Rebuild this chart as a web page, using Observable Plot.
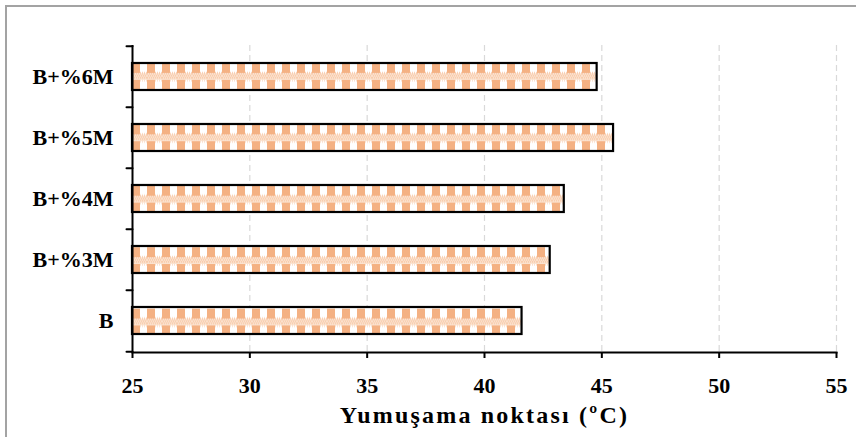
<!DOCTYPE html>
<html><head><meta charset="utf-8">
<script src="https://cdn.jsdelivr.net/npm/d3@7"></script>
<script src="https://cdn.jsdelivr.net/npm/@observablehq/plot@0.6"></script>
<style>
html,body{margin:0;padding:0;background:#fff;}
#wrap{position:relative;width:856px;height:437px;overflow:hidden;}
#wrap svg{position:absolute;left:0;top:0;}
#border{position:absolute;left:5px;top:5px;width:900px;height:500px;border-top:2px solid #a3a3a3;border-left:2px solid #a3a3a3;pointer-events:none;z-index:2}
#wrap svg text{font-family:'Liberation Serif','Times New Roman',serif !important;}
#wrap svg g[aria-label="x-axis label"] text{font-size:24px;letter-spacing:2.2px;}
</style></head><body>
<div id="wrap"><div id="border"></div></div>
<script>
const categories = ["B+%6M", "B+%5M", "B+%4M", "B+%3M", "B"];
const values = [44.8, 45.5, 43.4, 42.8, 41.6];
const xTicks = [25, 30, 35, 40, 45, 50, 55];
const xTitle = "Yumuşama noktası (ºC)";

const W = 856, H = 437, mt = 45, mb = 85, ml = 132, mr = 20;
const step = (H - mt - mb) / categories.length;
const data = categories.map((c, i) => ({cat: c, value: values[i]}));
const font = "'Liberation Serif', 'Times New Roman', serif";

const tickShape = {draw(ctx, l) { ctx.moveTo(0, 0); ctx.lineTo(0, -l); }};

const chart = Plot.plot({
  width: W, height: H,
  marginTop: mt, marginBottom: mb, marginLeft: ml, marginRight: mr,
  style: {fontFamily: font, fontWeight: "bold", fontSize: "22px", color: "#000", background: "#fff"},
  x: {domain: [25, 55], ticks: xTicks},
  y: {domain: categories, paddingInner: 0.56, paddingOuter: 0.28},
  marks: [
    Plot.gridX(xTicks.slice(1), {stroke: "#d9d9d9", strokeOpacity: 1, strokeDasharray: "6,4", strokeWidth: 1.2}),
    Plot.barX(data, {x1: 25, x2: "value", y: "cat", fill: "url(#chk)", stroke: "#000", strokeWidth: 2.2}),
    Plot.ruleX([25], {stroke: "#000", strokeWidth: 2}),
    Plot.frame({anchor: "bottom", stroke: "#000", strokeWidth: 2}),
    Plot.vector(categories, {x: () => 25, y: d => d, dy: -step / 2, length: 6, rotate: -90, anchor: "start", shape: tickShape, stroke: "#000", strokeWidth: 2}),
    Plot.vector(categories.slice(-1), {x: () => 25, y: d => d, dy: step / 2, length: 6, rotate: -90, anchor: "start", shape: tickShape, stroke: "#000", strokeWidth: 2}),
    Plot.axisY({tickSize: 0, tickPadding: 19, label: null, fontSize: 22, fontFamily: font, fontWeight: "bold"}),
    Plot.axisX(xTicks, {tickSize: 6, tickPadding: 19, strokeWidth: 2, fontSize: 22, fontFamily: font, fontWeight: "bold", label: xTitle, labelArrow: "none", labelAnchor: "center", labelOffset: 70, tickFormat: d => String(d)})
  ]
});

document.getElementById("wrap").appendChild(chart);

// build the checked fill pattern aligned with the bars
const svg = d3.select(chart.tagName.toLowerCase() === "svg" ? chart : chart.querySelector("svg"));
const rects = svg.selectAll('g[aria-label="bar"] rect').nodes();
const ys = rects.map(r => +r.getAttribute("y")).sort((a, b) => a - b);
const bh = rects.length ? +rects[0].getAttribute("height") : 26;
const y0 = ys.length ? ys[0] : 0;
const pw = 15;
const defs = svg.insert("defs", ":first-child");
const pat = defs.append("pattern").attr("id", "chk").attr("patternUnits", "userSpaceOnUse")
  .attr("x", ml).attr("y", y0).attr("width", pw).attr("height", step);
const orange = "#f4b183";
pat.append("rect").attr("width", pw).attr("height", step).attr("fill", "#fff");
const a = bh * 0.38, b = bh * 0.62;
pat.append("rect").attr("x", 0).attr("y", 0).attr("width", 8).attr("height", a).attr("fill", orange);
pat.append("rect").attr("x", 0).attr("y", b).attr("width", 8).attr("height", bh - b).attr("fill", orange);
pat.append("rect").attr("x", 0).attr("y", a).attr("width", pw).attr("height", b - a).attr("fill", "#fbe0cc");
for (let yy = a; yy < b - 0.5; yy += 2) {
  for (let xx = ((yy - a) / 2) % 2 ? 1 : 0; xx < pw; xx += 2) {
    pat.append("rect").attr("x", xx).attr("y", yy).attr("width", 1).attr("height", 1).attr("fill", "#f6bf98");
  }
}
for (const yy of [a - 1.5, b + 0.5]) {
  for (let xx = 8; xx < pw; xx += 2) {
    pat.append("rect").attr("x", xx).attr("y", yy).attr("width", 1).attr("height", 1).attr("fill", "#f8cdae");
  }
}
</script>
</body></html>
